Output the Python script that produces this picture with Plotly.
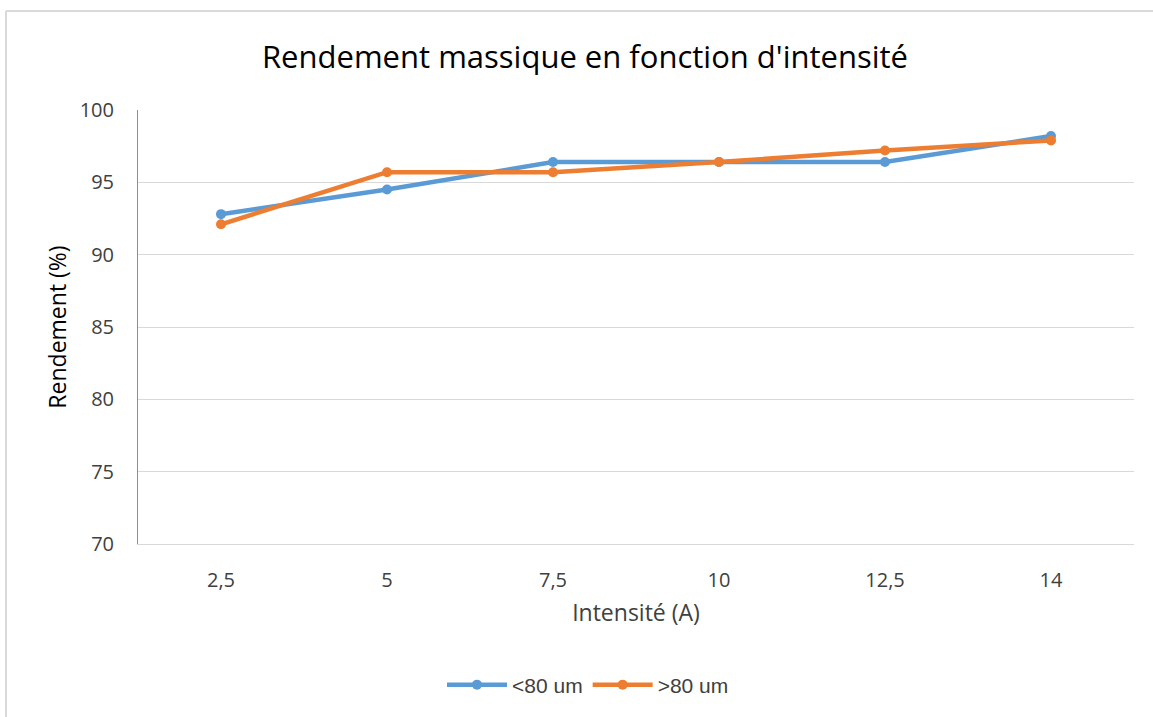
import plotly.graph_objects as go

categories = ["2,5", "5", "7,5", "10", "12,5", "14"]
series_lt80 = [92.8, 94.5, 96.4, 96.4, 96.4, 98.2]
series_gt80 = [92.1, 95.7, 95.7, 96.4, 97.2, 97.9]
y_ticks = [70, 75, 80, 85, 90, 95, 100]

fig = go.Figure()
fig.add_trace(go.Scatter(x=categories, y=series_lt80, name="<80 um", mode="lines+markers",
                         line=dict(color="#5B9BD5", width=4.5), marker=dict(size=10, color="#5B9BD5")))
fig.add_trace(go.Scatter(x=categories, y=series_gt80, name=">80 um", mode="lines+markers",
                         line=dict(color="#ED7D31", width=4.5), marker=dict(size=10, color="#ED7D31")))

L, R, T, B = 138, 19, 110, 173
W, H = 1153, 717
pw, ph = W - L - R, H - T - B

fig.update_layout(
    width=W, height=H,
    margin=dict(l=L, r=R, t=T, b=B),
    paper_bgcolor="white", plot_bgcolor="white",
    title=dict(text="Rendement massique en fonction d'intensité", x=585 / W, xanchor="center",
               y=1 - 57 / H, yanchor="middle", yref="container",
               font=dict(family="Open Sans", size=31, color="#000000")),
    xaxis=dict(type="category", showgrid=False, showline=True, linecolor="#D9D9D9", linewidth=1,
               tickfont=dict(family="Open Sans", size=20, color="#404040"),
               ticklabelstandoff=18,
               title=dict(text="Intensité (A)", font=dict(family="Open Sans", size=23, color="#404040"), standoff=12),
               range=[-0.5, 5.5], fixedrange=True),
    yaxis=dict(range=[70, 100], tickvals=y_ticks, showgrid=True, gridcolor="#D9D9D9", gridwidth=1,
               showline=True, linecolor="#5B9BD5", linewidth=1, zeroline=False,
               tickfont=dict(family="Open Sans", size=20, color="#404040"),
               ticklabelstandoff=19,
               title=dict(text="Rendement (%)", font=dict(family="Open Sans", size=23, color="#000000"), standoff=6)),
    legend=dict(orientation="h", x=(588 - L) / pw, xanchor="center", y=(H - B - 685) / ph, yanchor="middle",
                font=dict(family="Liberation Sans", size=21, color="#404040"), itemwidth=60),
    showlegend=True,
)

# outer chart frame (top and left edges visible)
fig.add_shape(type="line", xref="paper", yref="paper", x0=(6 - L) / pw, x1=(W + 20 - L) / pw,
              y0=(H - B - 11) / ph, y1=(H - B - 11) / ph, line=dict(color="#D9D9D9", width=2))
fig.add_shape(type="line", xref="paper", yref="paper", x0=(6 - L) / pw, x1=(6 - L) / pw,
              y0=(H - B - 11) / ph, y1=(H - B - H - 20) / ph, line=dict(color="#D9D9D9", width=2))

fig.write_html("out.html", config={"displayModeBar": False},
               post_script="document.body.style.margin='0px';")
